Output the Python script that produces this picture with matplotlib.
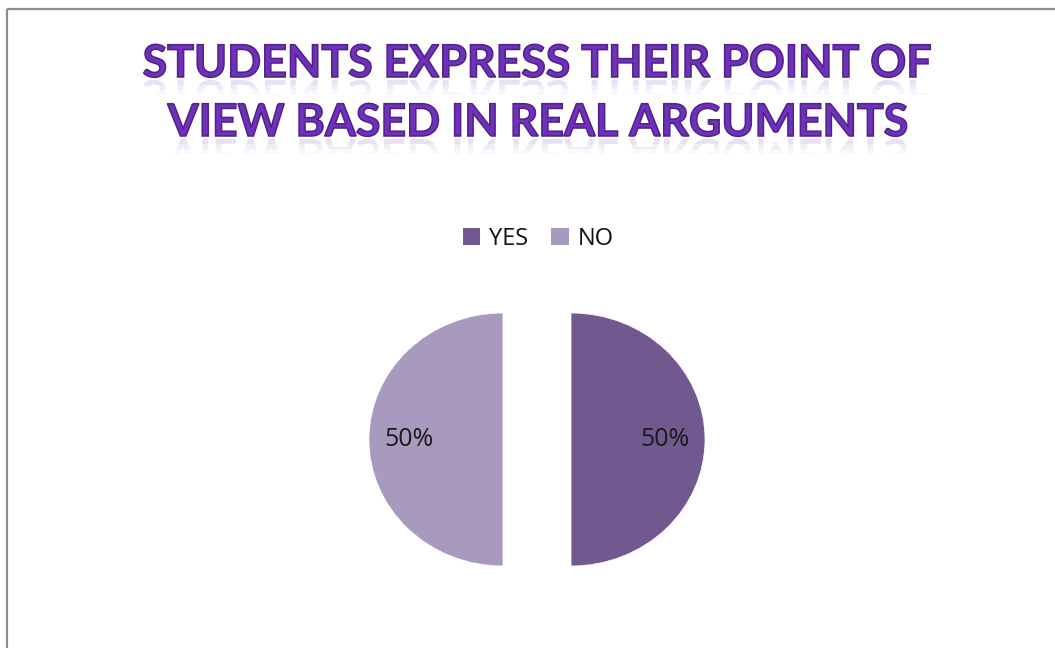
import matplotlib.pyplot as plt
from matplotlib.patches import Patch, PathPatch, Rectangle
from matplotlib.textpath import TextPath
from matplotlib.font_manager import FontProperties
from matplotlib.transforms import Affine2D

# data
labels = ['YES', 'NO']
shares = [50, 50]
colors = ['#71598F', '#A899BF']
title_lines = ['STUDENTS EXPRESS THEIR POINT OF', 'VIEW BASED IN REAL ARGUMENTS']

W, H = 1055, 648
fig = plt.figure(figsize=(W / 100, H / 100), dpi=100)
fig.patch.set_facecolor('white')

# overlay axes in pixel coords (y from top) for the border and the title
ov = fig.add_axes([0, 0, 1, 1])
ov.set_xlim(0, W)
ov.set_ylim(H, 0)
ov.axis('off')
ov.add_patch(Rectangle((7, 9), W + 20, H + 20, fill=False, edgecolor='#8C8C8C', linewidth=1.6))

fp = FontProperties(family='Lato', weight='bold')
title_col = '#6F31BA'
baselines = [77, 136]
cx = 537
for line, base in zip(title_lines, baselines):
    tp = TextPath((0, 0), line, size=44.7, prop=fp)
    ext = tp.get_extents()
    x0 = cx - (ext.x0 + ext.x1) / 2
    main = tp.transformed(Affine2D().scale(1, -1).translate(x0, base))
    ov.add_patch(PathPatch(main, facecolor=title_col, edgecolor='#4E2288', linewidth=1.1))
    # soft reflection below the line
    refl = tp.transformed(Affine2D().translate(x0, base + 3))
    for k, a in enumerate([0.22, 0.13, 0.06]):
        clip = Rectangle((0, base + 3 + k * 5), W, 5, transform=ov.transData, visible=False)
        ov.add_patch(clip)
        pp = PathPatch(refl, facecolor='#9A78D0', edgecolor='none', alpha=a)
        ov.add_patch(pp)
        pp.set_clip_path(clip)

# pie axes, sized so one x unit is ~134 px and one y unit ~126.5 px
ax = fig.add_axes([0.3058, 0.0875, 0.4064, 0.4685])
wedges, texts, autotexts = ax.pie(shares, colors=colors, startangle=90, counterclock=False,
                                  explode=[0.254, 0.254], autopct='%1.0f%%', pctdistance=0.7,
                                  textprops=dict(fontsize=18, family='Open Sans', color='#1A1A1A'),
                                  wedgeprops=dict(edgecolor='white', linewidth=0.5))
ax.set_aspect('auto')
ax.set_xlim(-1.6, 1.6)
ax.set_ylim(-1.2, 1.2)
ax.axis('off')

handles = [Patch(facecolor=c, edgecolor='none') for c in colors]
fig.legend(handles, labels, loc='center', bbox_to_anchor=(538 / W, 1 - 239 / H), ncol=2,
           frameon=False, handlelength=0.75, handleheight=0.75, handletextpad=0.35,
           columnspacing=1.0, labelcolor='#111111',
           prop=FontProperties(family='Open Sans', size=17))

fig.savefig('out.png', dpi=100, facecolor='white')
